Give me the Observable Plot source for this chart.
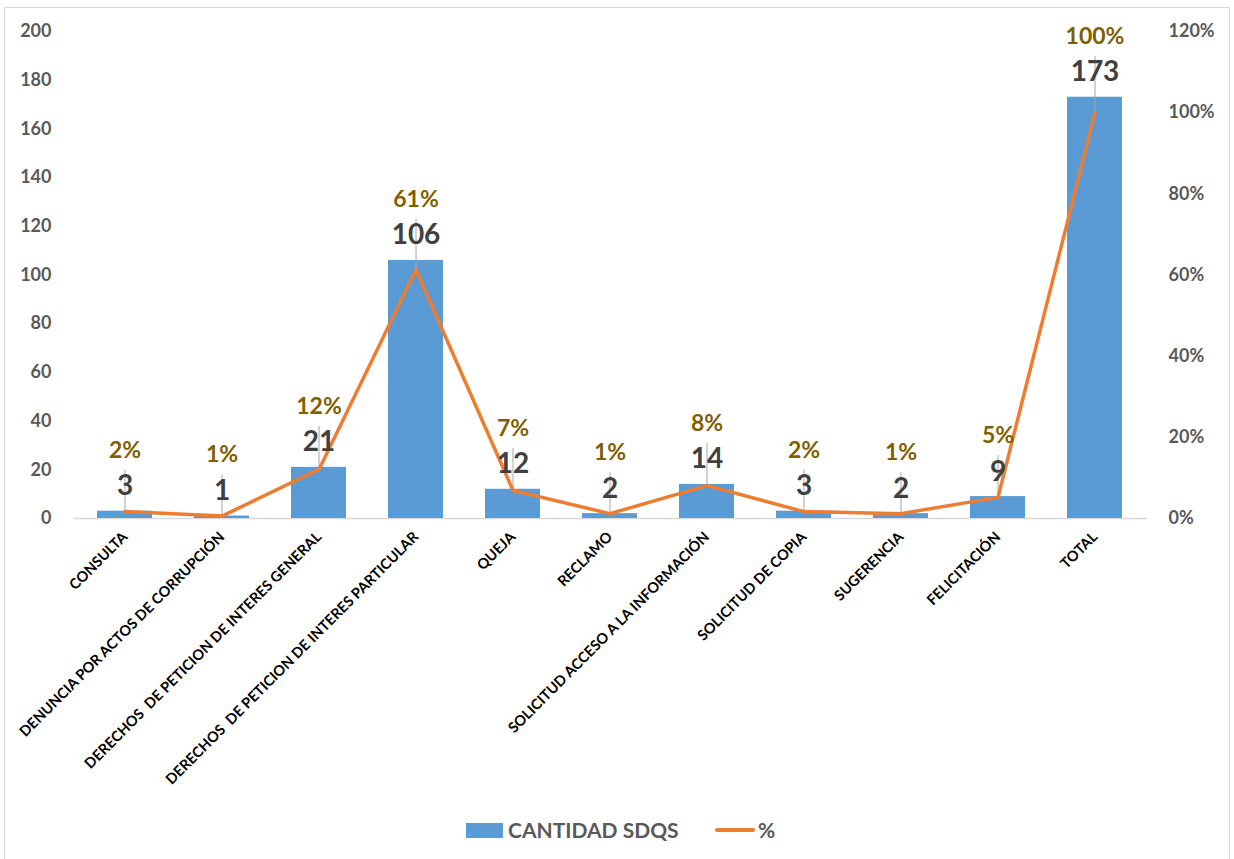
<!DOCTYPE html>
<html>
<head>
<meta charset="utf-8">
<script src="https://cdn.jsdelivr.net/npm/d3@7"></script>
<script src="https://cdn.jsdelivr.net/npm/@observablehq/plot@0.6"></script>
<style>
  html, body { margin: 0; padding: 0; background: #fff; }
  #wrap { position: relative; width: 1234px; height: 859px; overflow: hidden; font-family: Lato, "Open Sans", sans-serif; }
  #border { position: absolute; left: 4px; top: 7px; width: 1226px; height: 870px; border: 1.5px solid #d9d9d9; box-sizing: border-box; }
  #chart { position: absolute; left: 0; top: 0; }
  #legend { position: absolute; top: 813px; left: 0; width: 1234px; height: 36px; }
  .sw { position: absolute; left: 466px; top: 10px; width: 37px; height: 15px; background: #5b9bd5; }
  .lt { position: absolute; top: 2px; font-size: 21px; font-weight: 700; color: #595959; line-height: 30px; }
  .ln { position: absolute; left: 715px; top: 15px; width: 40px; height: 4px; background: #ed7d31; border-radius: 2px; }
</style>
</head>
<body>
<div id="wrap">
  <div id="border"></div>
  <div id="chart"></div>
  <div id="legend">
    <div class="sw"></div>
    <div class="lt" style="left:508px">CANTIDAD SDQS</div>
    <div class="ln"></div>
    <div class="lt" style="left:758px">%</div>
  </div>
</div>
<script>
const categories = [
  "CONSULTA",
  "DENUNCIA POR ACTOS DE CORRUPCIÓN",
  "DERECHOS  DE PETICION DE INTERES GENERAL",
  "DERECHOS  DE PETICION DE INTERES PARTICULAR",
  "QUEJA",
  "RECLAMO",
  "SOLICITUD ACCESO A LA INFORMACIÓN",
  "SOLICITUD DE COPIA",
  "SUGERENCIA",
  "FELICITACIÓN",
  "TOTAL"
];
const cantidad = [3, 1, 21, 106, 12, 2, 14, 3, 2, 9, 173];
const porcentaje = [1.7, 0.6, 12.1, 61.3, 6.9, 1.2, 8.1, 1.7, 1.2, 5.2, 100];
const porcentajeLabels = ["2%", "1%", "12%", "61%", "7%", "1%", "8%", "2%", "1%", "5%", "100%"];
const leftTicks = [0, 20, 40, 60, 80, 100, 120, 140, 160, 180, 200];
const rightTicks = [0, 20, 40, 60, 80, 100, 120];

const W = 1234, H = 800, mt = 31, mb = 282, ml = 73, mr = 87;
const yMax = 200, pMax = 120;
const pxPerUnit = (H - mt - mb) / yMax;
const toLeft = p => p * yMax / pMax;

const data = categories.map((c, i) => ({
  cat: c, value: cantidad[i], pct: porcentaje[i], pctLabel: porcentajeLabels[i]
}));

const chart = Plot.plot({
  width: W, height: H,
  marginTop: mt, marginBottom: mb, marginLeft: ml, marginRight: mr,
  style: { fontFamily: "Lato, 'Open Sans', sans-serif", background: "transparent" },
  x: { domain: categories, paddingInner: 0.43, paddingOuter: 0.215, label: null },
  y: { domain: [0, yMax], label: null },
  marks: [
    Plot.ruleY([0], { stroke: "#d9d9d9", strokeWidth: 1.5 }),
    Plot.barY(data, { x: "cat", y: "value", fill: "#5b9bd5" }),
    Plot.ruleX(data, {
      x: "cat",
      y1: d => toLeft(d.pct),
      y2: d => d.value + 41 / pxPerUnit,
      stroke: "#a6a6a6", strokeWidth: 1
    }),
    Plot.lineY(data, { x: "cat", y: d => toLeft(d.pct), stroke: "#ed7d31", strokeWidth: 3.5, strokeLinejoin: "round" }),
    Plot.text(data, { x: "cat", y: "value", text: d => String(d.value), dy: -25, fill: "#404040", fontSize: 28, fontWeight: 700 }),
    Plot.text(data, { x: "cat", y: "value", text: "pctLabel", dy: -61, fill: "#7f6000", fontSize: 23, fontWeight: 700 }),
    Plot.axisY(leftTicks, { anchor: "left", tickSize: 0, tickPadding: 22, label: null, fontSize: 18, fontWeight: 700, fill: "#595959" }),
    Plot.axisY(rightTicks.map(toLeft), { anchor: "right", tickSize: 0, tickPadding: 21, label: null, tickFormat: v => Math.round(v * pMax / yMax) + "%", fontSize: 18, fontWeight: 700, fill: "#595959" }),
    Plot.axisX({ tickRotate: -45, tickSize: 0, tickPadding: 16, label: null, fontSize: 14.5, fontWeight: 700, fill: "#000" })
  ]
});
document.getElementById("chart").appendChild(chart);
</script>
</body>
</html>
